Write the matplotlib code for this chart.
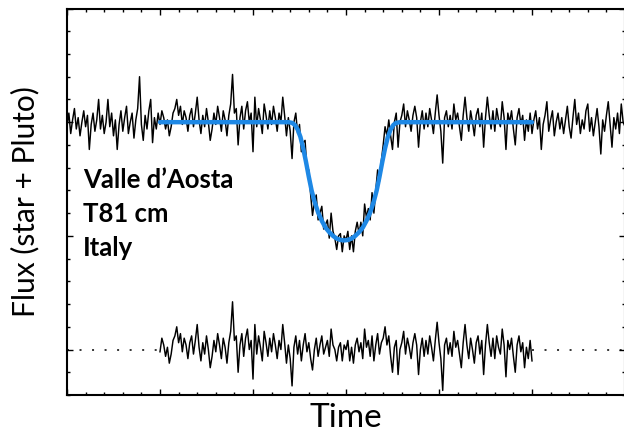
import numpy as np
import matplotlib
matplotlib.use("Agg")
import matplotlib.pyplot as plt
from matplotlib.ticker import MultipleLocator

# light curve, normalised flux (%), sampled every 0.02 time units from t=0 to t=6
flux = [
    98, 104, 95, 101, 106, 97, 102, 94, 100, 105, 98, 103, 88, 99, 104, 96, 101, 110, 97, 103,
    95, 100, 110, 98, 104, 94, 101, 88, 99, 105, 96, 102, 107, 95, 100, 104, 93, 101, 106, 120,
    99, 92, 103, 97, 105, 110, 91, 102, 97, 104,
    99, 105, 102, 97, 101, 94, 98, 104, 106, 110, 103, 107, 99, 105, 102, 96, 103, 106, 98, 104,
    111, 101, 95, 103, 98, 106, 100, 92, 97, 104, 99, 107, 102, 96, 105, 101, 94, 103, 108, 121,
    104, 106, 90, 102, 107, 97, 105, 109, 100, 104, 87, 111, 98, 106, 101, 95, 108, 103, 97, 105,
    99, 107, 102, 96, 104, 100, 111, 103, 94, 102, 96, 84, 100, 104, 95, 99, 87, 91, 92, 79,
    79, 68, 59, 65, 68, 57, 60, 63, 53, 55, 57, 49, 60, 52, 49, 44, 50, 51, 43, 50,
    48, 52, 44, 50, 43, 52, 56, 51, 56, 50, 64, 58, 62, 57, 69, 60, 70, 79, 74, 83,
    90, 98, 94, 101, 94, 88, 100, 104, 89, 100, 103, 108, 98, 105, 101, 96, 103, 107, 102, 89,
    100, 105, 97, 104, 98, 106, 101, 95, 104, 112, 103, 96, 82, 102, 105, 98, 103, 97, 108, 101,
    104, 98, 92, 103, 111, 102, 96, 105, 100, 94, 103, 106, 98, 104, 89, 102, 111, 103, 97, 105,
    96, 106, 101, 98, 109, 102, 88, 104, 100, 105, 97, 90, 102, 106, 99, 103, 92, 101, 96, 104,
    95,
    101, 105, 97, 102, 88, 99, 103, 109, 96, 101, 105, 94, 100, 104, 97, 102, 95, 101, 107, 98,
    93, 102, 110, 99, 104, 95, 101, 97, 105, 108, 96, 102, 94, 100, 106, 98, 86, 101, 96, 103,
    109, 99, 89, 102, 97, 104, 95, 108, 100, 98,
]

# residuals (%) from t=1 to t=5, same sampling
resid = [
    -1, 5, 2, -3, 1, -6, -2, 4, 6, 10, 3, 7, -1, 5, 2, -4, 3, 6, -2, 4,
    11, 1, -5, 3, -2, 6, 0, -8, -3, 4, -1, 7, 2, -4, 5, 1, -6, 3, 8, 21,
    4, 6, -10, 2, 7, -3, 5, 9, 0, 4, -13, 11, -2, 6, 1, -5, 8, 3, -3, 5,
    -1, 7, 2, -4, 4, 0, 11, 3, -6, 2, -4, -16, 1, 6, -2, 4, -5, 2, 7, -1,
    3, -4, -9, 0, 5, -3, 2, 6, -2, 1, 4, -3, 9, 2, 0, -5, 1, 3, -5, 2,
    0, 4, -5, 1, -6, 2, 5, -1, 3, -4, 9, 1, 4, -3, 6, -5, 2, 7, -2, 3,
    5, 10, 2, 6, -3, -10, 1, 4, -11, 0, 3, 8, -2, 5, 1, -4, 3, 7, 2, -11,
    0, 5, -3, 4, -2, 6, 1, -5, 4, 12, 3, -4, -18, 2, 5, -2, 3, -3, 8, 1,
    4, -2, -8, 3, 11, 2, -4, 5, 0, -6, 3, 6, -2, 4, -11, 2, 11, 3, -3, 5,
    -4, 6, 1, -2, 9, 2, -12, 4, 0, 5, -3, -10, 2, 6, -1, 3, -8, 1, -4, 4,
    -5,
]

# fitted model (blue curve)
fit_t = [1.0, 2.38, 2.42, 2.45, 2.48, 2.51, 2.54, 2.57, 2.60, 2.63, 2.66, 2.70, 2.74, 2.78,
         2.82, 2.86, 2.90, 2.94, 2.98, 3.02, 3.06, 3.10, 3.14, 3.18, 3.22, 3.26, 3.30, 3.33,
         3.36, 3.39, 3.42, 3.45, 3.48, 3.51, 3.54, 3.58, 5.0]
fit_flux = [100, 100, 99.7, 98.8, 96.8, 93.5, 88.5, 82.5, 76.0, 70.0, 65.3, 60.3, 56.6, 53.6,
            51.6, 50.0, 48.8, 48.2, 48.0, 48.2, 48.8, 50.0, 51.6, 53.6, 56.6, 60.3, 65.3, 70.0,
            76.0, 82.5, 88.5, 93.5, 96.8, 98.8, 99.7, 100, 100]

t_flux = np.linspace(0, 6, len(flux))
t_resid = np.linspace(1, 5, len(resid))

fig = plt.figure(figsize=(6.24, 4.33), dpi=100)
ax = fig.add_axes([67 / 624, 1 - 395 / 433, 558 / 624, 386.5 / 433])

# dotted zero line for the residuals
ax.plot([0, 1], [0, 0], color="black", lw=1.1, ls=(0, (1.3, 6.9)))
ax.plot([5, 6], [0, 0], color="black", lw=1.1, ls=(0, (1.3, 6.9)))
ax.plot(t_resid, resid, color="black", lw=1.05)
ax.plot(t_flux, flux, color="black", lw=1.05)
ax.plot(fit_t, fit_flux, color="#1E88E5", lw=3.2, solid_capstyle="round")

ax.set_xlim(0, 6)
ax.set_ylim(-20, 150)
ax.xaxis.set_major_locator(MultipleLocator(1))
ax.xaxis.set_minor_locator(MultipleLocator(0.2))
ax.yaxis.set_major_locator(MultipleLocator(50))
ax.yaxis.set_minor_locator(MultipleLocator(10))
ax.tick_params(which="both", direction="in", top=True, right=True,
               labelbottom=False, labelleft=False, width=1.0)
ax.tick_params(which="major", length=4.5)
ax.tick_params(which="minor", length=2.5)
for s in ax.spines.values():
    s.set_linewidth(1.5)

ax.set_xlabel("Time", fontsize=24, family="Lato", labelpad=6)
ax.set_ylabel("Flux (star + Pluto)", fontsize=21.5, family="Lato", labelpad=20)

ax.text(0.17, 80, "Valle d\u2019Aosta\nT81 cm\nItaly",
        fontsize=18.5, fontweight="bold", family="Lato", va="top", ha="left",
        linespacing=1.5)

fig.savefig("out.png", dpi=100)
